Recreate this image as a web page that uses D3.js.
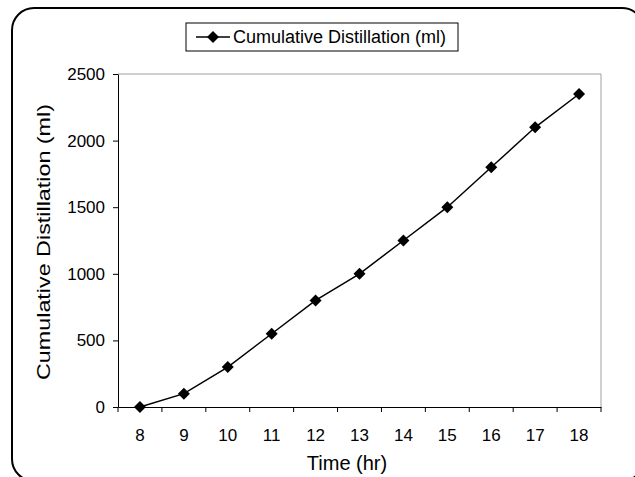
<!DOCTYPE html>
<html>
<head>
<meta charset="utf-8">
<script src="https://cdn.jsdelivr.net/npm/d3@7"></script>
<style>
  html, body { margin: 0; padding: 0; background: #fff; overflow: hidden; }
  svg { display: block; font-family: "Liberation Sans", Arial, sans-serif; }
</style>
</head>
<body>
<svg id="chart" width="635" height="477"></svg>
<script>
// Hourly readings of cumulative distillate volume
const hours = ["8", "9", "10", "11", "12", "13", "14", "15", "16", "17", "18"];
const volumes = [0, 100, 300, 550, 800, 1000, 1250, 1500, 1800, 2100, 2350];
const yTicks = [0, 500, 1000, 1500, 2000, 2500];
const seriesName = "Cumulative Distillation (ml)";
const xTitle = "Time (hr)";
const yTitle = "Cumulative Distillation (ml)";

const svg = d3.select("#chart");
const plot = { left: 118, right: 601, top: 74, bottom: 407 };
const FONT = "Liberation Sans, Arial, sans-serif";

// Outer rounded frame (runs past the lower and right edges)
svg.append("rect")
  .attr("x", 12).attr("y", 8)
  .attr("width", 632).attr("height", 473)
  .attr("rx", 22).attr("ry", 22)
  .attr("fill", "#fff").attr("stroke", "#000").attr("stroke-width", 2);

const x = d3.scaleBand().domain(hours).range([plot.left, plot.right]).paddingInner(0).paddingOuter(0);
const y = d3.scaleLinear().domain([0, 2500]).range([plot.bottom, plot.top]);

// Plot area border (top and right in gray)
svg.append("path")
  .attr("d", `M${plot.left},${plot.top}H${plot.right}V${plot.bottom}`)
  .attr("fill", "none").attr("stroke", "#a0a0a0").attr("stroke-width", 1);

// Y axis
const yAxis = svg.append("g")
  .attr("transform", `translate(${plot.left},0)`)
  .call(d3.axisLeft(y).tickValues(yTicks).tickFormat(d3.format("d"))
    .tickSize(5).tickSizeOuter(0).tickPadding(8));

// X axis; tick marks sit on category boundaries
const xAxis = svg.append("g")
  .attr("transform", `translate(0,${plot.bottom})`)
  .call(d3.axisBottom(x).tickSize(0).tickSizeOuter(0).tickPadding(22));

const boundaries = hours.map(h => x(h)).concat([x(hours[hours.length - 1]) + x.bandwidth()]);
xAxis.selectAll(".boundary").data(boundaries).enter().append("line")
  .attr("class", "boundary")
  .attr("x1", d => d).attr("x2", d => d)
  .attr("y1", 0).attr("y2", 5)
  .attr("stroke", "#000");

[yAxis, xAxis].forEach(g => {
  g.select(".domain").attr("stroke", "#000").attr("stroke-width", 1);
  g.selectAll(".tick line").attr("stroke", "#000");
  g.selectAll("text").attr("fill", "#000").attr("font-size", 17).attr("font-family", FONT);
});

// Axis titles
svg.append("text")
  .attr("x", 347).attr("y", 470)
  .attr("text-anchor", "middle").attr("font-size", 20).attr("font-family", FONT)
  .text(xTitle);
svg.append("text")
  .attr("transform", "translate(50,242) rotate(-90)")
  .attr("text-anchor", "middle").attr("font-size", 19).attr("font-family", FONT)
  .attr("textLength", 276).attr("lengthAdjust", "spacingAndGlyphs")
  .text(yTitle);

// Series line and diamond markers
const cx = i => x(hours[i]) + x.bandwidth() / 2;
const line = d3.line().x((d, i) => cx(i)).y(d => y(d));
svg.append("path").datum(volumes)
  .attr("d", line).attr("fill", "none").attr("stroke", "#000").attr("stroke-width", 1.5);

const marker = d3.symbol().type(d3.symbolSquare).size(72);
svg.selectAll(".pt").data(volumes).enter().append("path")
  .attr("class", "pt")
  .attr("transform", (d, i) => `translate(${cx(i)},${y(d)}) rotate(45)`)
  .attr("d", marker)
  .attr("fill", "#000");

// Legend
const lg = svg.append("g").attr("transform", "translate(186,23)");
lg.append("rect").attr("width", 272).attr("height", 28)
  .attr("fill", "#fff").attr("stroke", "#000").attr("stroke-width", 1);
lg.append("line").attr("x1", 10).attr("x2", 44).attr("y1", 14).attr("y2", 14)
  .attr("stroke", "#000").attr("stroke-width", 1.5);
lg.append("path").attr("transform", "translate(27,14) rotate(45)")
  .attr("d", marker).attr("fill", "#000");
lg.append("text").attr("x", 47).attr("y", 20).attr("font-size", 18).attr("font-family", FONT)
  .text(seriesName);
</script>
</body>
</html>
